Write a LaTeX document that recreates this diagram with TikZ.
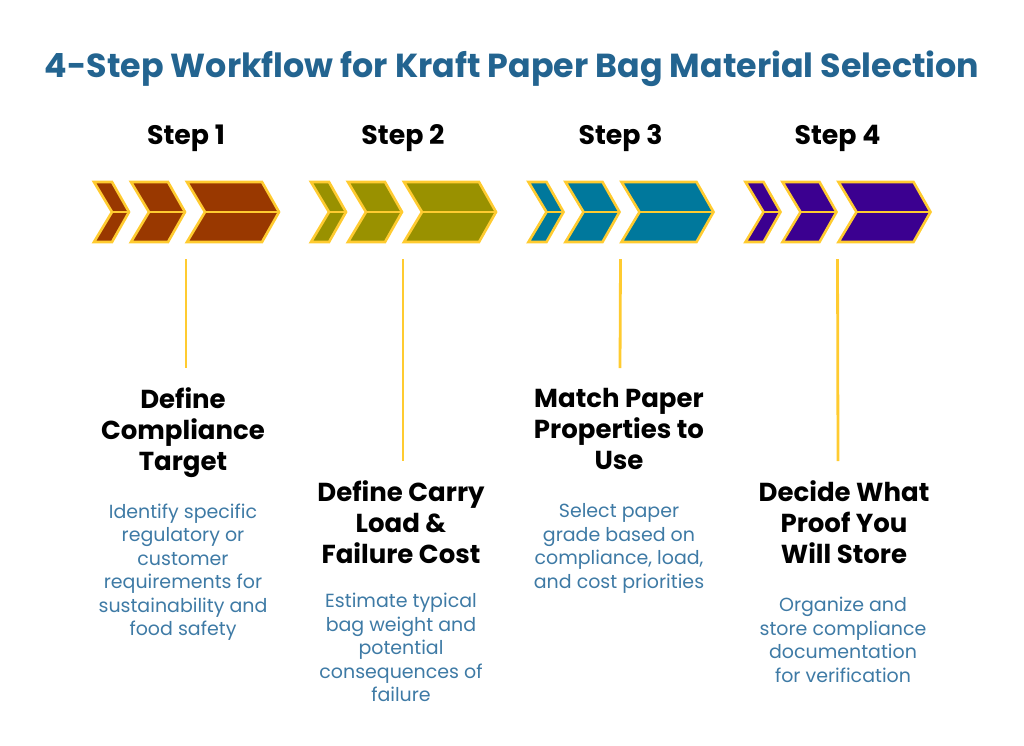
\documentclass[tikz,border=0pt]{standalone}
\usepackage{fontspec}
\setmainfont{Poppins}
\definecolor{titleblue}{HTML}{236490}
\definecolor{bodyblue}{HTML}{3E7AA5}
\definecolor{gold}{HTML}{FFCB30}
\definecolor{stepa}{HTML}{993800}
\definecolor{stepb}{HTML}{999100}
\definecolor{stepc}{HTML}{00789C}
\definecolor{stepd}{HTML}{3B0090}
\tikzset{
    chev/.style={draw=gold, line width=2.6pt, line join=miter},
    stem/.style={draw=gold, line width=2.8pt},
    titletext/.style={font=\fontsize{33.3}{38}\selectfont\bfseries, text=titleblue},
    steptext/.style={font=\fontsize{26.8}{28}\selectfont\bfseries, text=black},
    headtext/.style={font=\fontsize{26}{31}\selectfont\bfseries, text=black, align=center, anchor=north},
    bodytext/.style={font=\fontsize{19}{23.5}\selectfont, text=bodyblue, align=center, anchor=north}
}
\begin{document}
\begin{tikzpicture}[x=1pt, y=-1pt]
    \useasboundingbox (0, 0) rectangle (1024, 745);

    \node[titletext] (title) at (512, 69) { 4-Step Workflow for Kraft Paper Bag Material Selection };

    % chevrons, one row per step
    \foreach \n/\dx/\col in {1/0/stepa, 2/217/stepb, 3/434.5/stepc, 4/651.5/stepd} {
        \begin{scope}[xshift=\dx pt]
            \filldraw[chev, fill=\col] (94, 182) -- (112, 182) -- (129, 212) -- (112, 242) -- (94, 242) -- (112, 212) -- cycle;
            \filldraw[chev, fill=\col] (131, 182) -- (168, 182) -- (185, 212) -- (168, 242) -- (131, 242) -- (149, 212) -- cycle;
            \filldraw[chev, fill=\col] (187, 182) -- (262, 182) -- (279, 212) -- (262, 242) -- (187, 242) -- (205, 212) -- cycle;
            \draw[chev] (112, 212) -- (129, 212);
            \draw[chev] (149, 212) -- (185, 212);
            \draw[chev] (205, 212) -- (279, 212);
            \node[steptext] (step\n) at (186, 138) { Step \n };
            \coordinate (top\n) at (186, 259);
        \end{scope}
    }

    \coordinate (low1) at (186, 368);
    \coordinate (low2) at (403, 461);
    \coordinate (low3) at (620, 368);
    \coordinate (low4) at (838, 461);
    \foreach \n in {1, ..., 4} {
        \draw[stem] (top\n) -- (low\n);
    }

    \node[headtext] (head1) at (183, 384.5) { Define\\Compliance\\Target };
    \node[headtext] (head2) at (401, 477.5) { Define Carry\\Load \&\\Failure Cost };
    \node[headtext] (head3) at (619, 384.5) { Match Paper\\Properties to\\Use };
    \node[headtext] (head4) at (844, 477.5) { Decide What\\Proof You\\Will Store };

    \node[bodytext] (body1) at (183, 500) { Identify specific\\regulatory or\\customer\\requirements for\\sustainability and\\food safety };
    \node[bodytext] (body2) at (401, 589.5) { Estimate typical\\bag weight and\\potential\\consequences of\\failure };
    \node[bodytext] (body3) at (619, 500) { Select paper\\grade based on\\compliance, load,\\and cost priorities };
    \node[bodytext] (body4) at (843, 593.5) { Organize and\\store compliance\\documentation\\for verification };
\end{tikzpicture}
\end{document}
